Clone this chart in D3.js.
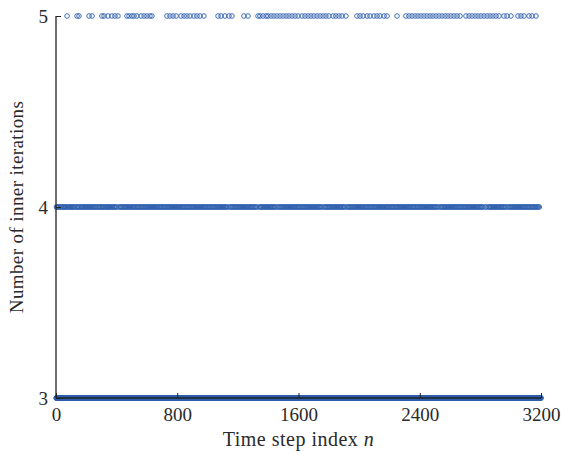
<!DOCTYPE html>
<html><head><meta charset="utf-8">
<script src="https://cdn.jsdelivr.net/npm/d3@7"></script>
<style>body{margin:0;background:#fff}svg{display:block}text{font-family:"Liberation Serif","DejaVu Serif",serif;fill:#2a2a2a}</style>
</head><body><svg id="c" width="561" height="454"></svg>
<script>
// ---- data ----
const xTicks = [0, 800, 1600, 2400, 3200];
const yTicks = [3, 4, 5];
const nSteps = 3200;
// time steps needing 5 inner iterations
const stepsAt5 = [73,139,152,218,238,303,317,343,369,389,409,468,482,501,515,534,561,581,600,620,633,732,752,772,792,825,845,864,884,910,930,950,976,1069,1089,1115,1141,1161,1240,1267,1333,1346,1366,1386,1399,1419,1438,1458,1478,1498,1518,1537,1557,1577,1597,1623,1643,1663,1682,1702,1722,1742,1762,1781,1801,1828,1847,1867,1887,1913,1986,2006,2026,2052,2072,2098,2118,2138,2164,2184,2250,2309,2329,2349,2369,2388,2408,2428,2448,2468,2487,2507,2527,2547,2567,2586,2606,2626,2646,2666,2705,2725,2745,2765,2784,2804,2824,2844,2864,2883,2903,2923,2956,2976,3002,3048,3068,3088,3121,3141,3167];
// time steps needing 4 inner iterations (two passes)
const stepsAt4a = [3,12,27,41,55,66,83,97,110,122,140,151,168,180,194,207,221,236,249,262,278,291,305,318,333,346,359,374,388,401,416,429,443,458,470,485,499,512,527,540,554,568,582,596,609,623,637,650,664,679,692,706,719,734,747,761,775,789,802,816,830,843,858,871,885,899,912,927,940,954,968,981,996,1009,1023,1037,1050,1065,1078,1092,1106,1119,1134,1147,1162,1175,1188,1203,1216,1230,1244,1257,1272,1285,1299,1313,1326,1341,1354,1368,1382,1395,1410,1423,1437,1451,1464,1479,1492,1506,1520,1533,1548,1561,1575,1589,1602,1617,1630,1644,1658,1671,1686,1699,1713,1727,1740,1755,1768,1782,1796,1809,1824,1837,1851,1865,1878,1893,1906,1920,1934,1947,1962,1975,1989,2003,2016,2031,2044,2058,2073,2085,2100,2113,2127,2141,2154,2169,2182,2196,2210,2223,2238,2251,2265,2279,2292,2307,2320,2334,2348,2361,2376,2389,2403,2417,2430,2445,2458,2472,2486,2499,2514,2527,2541,2555,2568,2583,2596,2610,2624,2637,2652,2665,2679,2693,2706,2721,2734,2748,2762,2775,2790,2803,2817,2831,2844,2859,2872,2886,2900,2913,2928,2941,2955,2969,2982,2997,3010,3024,3038,3051,3066,3079,3093,3107,3120,3135,3148,3162,3176,3189];
const stepsAt4b = [7,19,34,48,61,75,90,103,116,131,145,160,174,187,201,214,228,243,256,270,285,298,311,326,340,352,367,381,395,409,423,436,451,464,478,492,506,520,535,547,562,575,588,603,616,630,644,657,671,686,699,713,726,741,754,768,782,796,809,823,837,850,865,878,892,906,919,934,947,961,975,988,1003,1016,1030,1044,1057,1072,1085,1099,1113,1126,1141,1154,1168,1182,1195,1210,1223,1237,1251,1264,1279,1292,1306,1320,1333,1348,1361,1375,1389,1402,1417,1430,1444,1458,1471,1486,1499,1513,1527,1540,1555,1568,1582,1596,1609,1624,1637,1651,1665,1678,1693,1706,1720,1734,1747,1762,1775,1789,1803,1816,1831,1844,1858,1872,1885,1900,1913,1927,1941,1954,1969,1982,1996,2010,2023,2038,2051,2065,2079,2092,2107,2120,2134,2148,2161,2176,2189,2203,2217,2230,2245,2258,2272,2286,2299,2314,2327,2341,2355,2368,2383,2396,2410,2424,2437,2452,2465,2479,2493,2506,2521,2534,2548,2562,2575,2590,2603,2617,2631,2644,2659,2672,2686,2700,2713,2728,2741,2755,2769,2782,2797,2810,2824,2838,2851,2866,2879,2893,2907,2920,2935,2948,2962,2976,2989,3004,3017,3031,3045,3058,3073,3086,3100,3114,3127,3142,3155,3169,3183];

const set5 = new Set(stepsAt5);
const stepsAt4 = stepsAt4a.concat(stepsAt4b).filter(n => !set5.has(n));
// every other time step needs 3 inner iterations
const set45 = new Set(stepsAt5.concat(stepsAt4));
const points = [];
for (let n = 1; n <= nSteps; n++) if (!set45.has(n)) points.push({n, k: 3});
stepsAt4.forEach(n => points.push({n, k: 4}));
stepsAt5.forEach(n => points.push({n, k: 5}));

// ---- chart ----
const svg = d3.select("#c");
const m = {l: 56, r: 20, t: 16, b: 56};
const W = 561, H = 454;
const x = d3.scaleLinear().domain([0, 3200]).range([m.l, W - m.r]);
const y = d3.scaleLinear().domain([3, 5]).range([H - m.b, m.t]);
const col = "#2d5dad";

svg.append("g").selectAll("circle").data(points).join("circle")
  .attr("cx", d => x(d.n)).attr("cy", d => y(d.k)).attr("r", 2.3)
  .attr("fill", "none").attr("stroke", col).attr("stroke-width", 0.9);

const gx = svg.append("g").attr("transform", `translate(0,${y(3)})`)
  .call(d3.axisBottom(x).tickValues(xTicks).tickSize(-5).tickPadding(10).tickFormat(d3.format("d")));
const gy = svg.append("g").attr("transform", `translate(${x(0)},0)`)
  .call(d3.axisLeft(y).tickValues(yTicks).tickSize(-5).tickPadding(8).tickFormat(d3.format("d")));
[gx, gy].forEach(g => {
  g.select(".domain").attr("stroke", "#222").attr("stroke-width", 1.3);
  g.selectAll(".tick line").attr("stroke", "#222").attr("stroke-width", 1);
  g.selectAll(".tick text").attr("font-size", 19).attr("fill", "#2a2a2a")
    .style("font-family", '"Liberation Serif","DejaVu Serif",serif');
});
gx.select(".domain").attr("d", `M${x(0)},0H${x(3200)}`);
gy.select(".domain").attr("d", `M0,${y(3)}V${y(5)}`);

const xl = svg.append("text").attr("x", (x(0) + x(3200)) / 2).attr("y", 446)
  .attr("text-anchor", "middle").attr("font-size", 20).attr("letter-spacing", 0.5);
xl.append("tspan").text("Time step index ");
xl.append("tspan").attr("font-style", "italic").text("n");

svg.append("text").attr("transform", `translate(23,${(y(3) + y(5)) / 2}) rotate(-90)`)
  .attr("text-anchor", "middle").attr("font-size", 19).attr("letter-spacing", 0.4).text("Number of inner iterations");
</script></body></html>
